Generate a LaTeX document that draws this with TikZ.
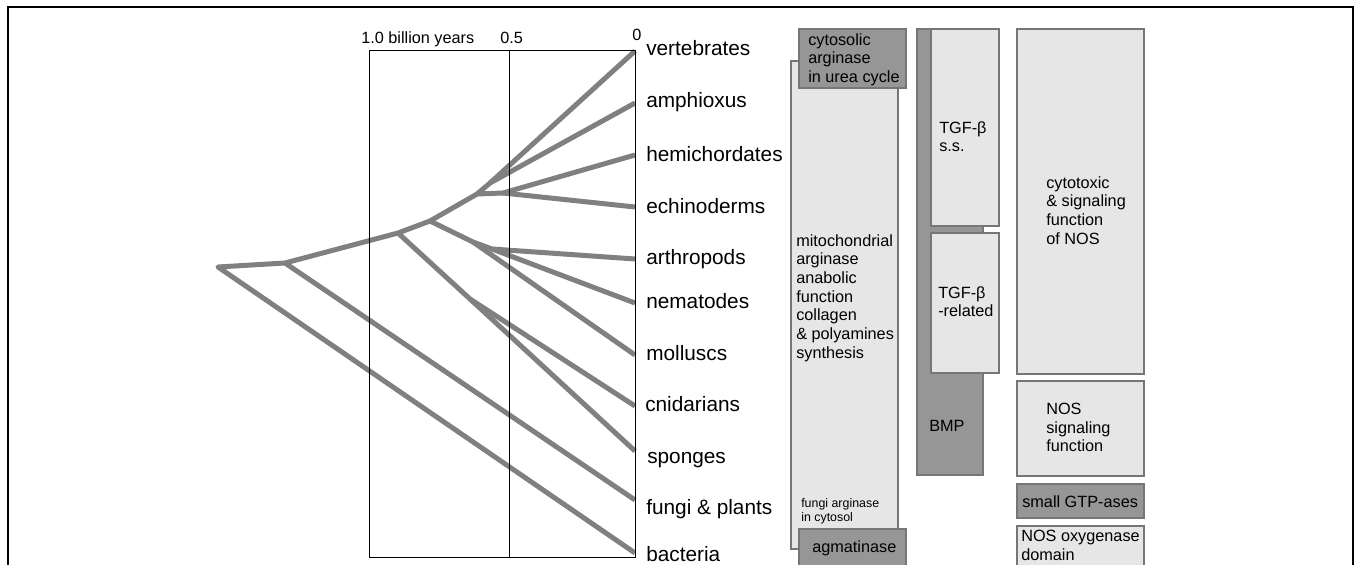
\documentclass[tikz,border=0pt]{standalone}
\usepackage{fontspec}
\setmainfont{Liberation Sans}
\usetikzlibrary{positioning}
\definecolor{branchgray}{HTML}{808080}
\definecolor{lightfill}{HTML}{E6E6E6}
\definecolor{darkfill}{HTML}{969696}
\definecolor{edgegray}{HTML}{767676}

\begin{document}
\begin{tikzpicture}[x=0.75pt, y=-0.75pt,
    branch/.style={draw=branchgray, line width=3.75pt, line join=round},
    axisline/.style={draw=black, line width=0.75pt},
    lightbox/.style={draw=edgegray, fill=lightfill, line width=1pt},
    darkbox/.style={draw=edgegray, fill=darkfill, line width=1pt},
    taxon/.style={anchor=base west, inner sep=0pt, font=\fontsize{15.6}{18}\selectfont},
    scalelbl/.style={anchor=base west, inner sep=0pt, font=\fontsize{12.2}{14}\selectfont},
    boxtext/.style={anchor=north west, inner sep=0pt, align=left, font=\fontsize{12.2}{14}\selectfont},
    smalltext/.style={anchor=north west, inner sep=0pt, align=left, font=\fontsize{9.3}{10.5}\selectfont}
]
\clip (0,0) rectangle (1356,564);
\draw[line width=1.1pt] (8,600) -- (8,7) -- (1353,7) -- (1353,600);

% tree
\coordinate (root) at (218,267);
\coordinate (nA) at (285,263);
\coordinate (nB) at (398,233);
\coordinate (nC) at (430,221);
\coordinate (nD) at (473,242);
\coordinate (nE) at (492,249);
\coordinate (nF) at (470,299);
\coordinate (nG) at (477,194);
\coordinate (nH) at (503,193);
\coordinate (nJ) at (490,183);
\coordinate (vert) at (635,51);
\coordinate (amph) at (635,103);
\coordinate (hemi) at (635,155);
\coordinate (echi) at (635,207);
\coordinate (arth) at (635,259);
\coordinate (nema) at (635,303);
\coordinate (moll) at (635,355);
\coordinate (cnid) at (635,406);
\coordinate (spon) at (635,451);
\coordinate (fung) at (635,500);
\coordinate (bact) at (635,553);

\draw[branch] (bact) -- (root) -- (nA) -- (nB) -- (nC) -- (nG) -- (nJ) -- (vert);
\draw[branch] (nJ) -- (amph);
\draw[branch] (nG) -- (nH) -- (hemi);
\draw[branch] (nH) -- (echi);
\draw[branch] (nC) -- (nD) -- (nE) -- (arth);
\draw[branch] (nE) -- (nema);
\draw[branch] (nD) -- (moll);
\draw[branch] (nB) -- (nF) -- (spon);
\draw[branch] (nF) -- (cnid);
\draw[branch] (nA) -- (fung);

\draw[axisline] (369,50) rectangle (635,557);
\draw[axisline] (509,50) -- (509,557);
\node[scalelbl] (t10) at (361,43) {1.0 billion years};
\node[scalelbl] (t05) at (500,43) {0.5};
\node[scalelbl] (t00) at (632,40) {0};

\node[taxon] (lvert) at (646,55) {vertebrates};
\node[taxon] (lamph) at (646,107) {amphioxus};
\node[taxon] (lhemi) at (646,161) {hemichordates};
\node[taxon] (lechi) at (646,213) {echinoderms};
\node[taxon] (larth) at (646,264) {arthropods};
\node[taxon] (lnema) at (646,308) {nematodes};
\node[taxon] (lmoll) at (646,360) {molluscs};
\node[taxon] (lcnid) at (645,411) {cnidarians};
\node[taxon] (lspon) at (647,463) {sponges};
\node[taxon] (lfung) at (646,514) {fungi \& plants};
\node[taxon] (lbact) at (646,561) {bacteria};

% arginase column
\draw[lightbox] (791,61) rectangle (898,549);
\draw[darkbox] (799,29) rectangle (906,88);
\draw[darkbox] (799,529) rectangle (906,600);
\node[boxtext] (cyto) at (808,33) {cytosolic\\arginase\\in urea cycle};
\node[boxtext] (mito) at (796,234) {mitochondrial\\arginase\\anabolic\\function\\collagen\\\& polyamines\\synthesis};
\node[smalltext] (fungarg) at (801,498) {fungi arginase\\in cytosol};
\node[scalelbl] (agma) at (812,552) {agmatinase};

% TGF column
\draw[darkbox] (917,29) rectangle (983,475);
\draw[lightbox] (931,29) rectangle (999,226);
\draw[lightbox] (931,233) rectangle (999,373);
\node[boxtext] (tgfss) at (939,121) {TGF-β\\s.s.};
\node[boxtext] (tgfrel) at (938,286) {TGF-β\\-related};
\node[scalelbl] (bmp) at (929,431) {BMP};

% NOS column
\draw[lightbox] (1017,29) rectangle (1144,374);
\draw[lightbox] (1017,381) rectangle (1144,476);
\draw[darkbox] (1017,484) rectangle (1144,518);
\draw[lightbox] (1017,526) rectangle (1144,600);
\node[boxtext] (cytotox) at (1046,176) {cytotoxic\\\& signaling\\function\\of NOS};
\node[boxtext] (nossig) at (1046,403) {NOS\\signaling\\function};
\node[scalelbl] (gtp) at (1022,507) {small GTP-ases};
\node[boxtext] (nosoxy) at (1021,530) {NOS oxygenase\\domain};
\end{tikzpicture}
\end{document}
